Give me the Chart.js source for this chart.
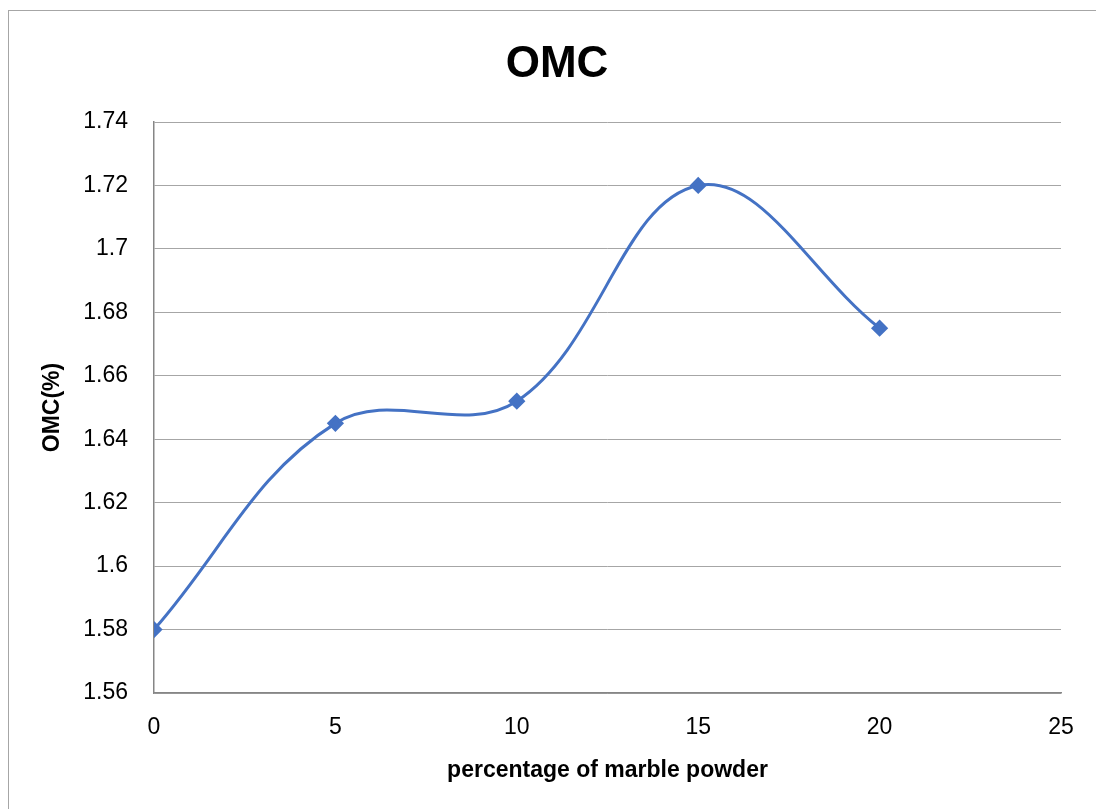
<!DOCTYPE html>
<html>
<head>
<meta charset="utf-8">
<script src="https://cdn.jsdelivr.net/npm/chart.js@4.4.0/dist/chart.umd.min.js"></script>
<style>
  html, body { margin: 0; padding: 0; background: #ffffff; }
  #wrap { position: relative; width: 1096px; height: 809px; overflow: hidden; }
  #frame { position: absolute; left: 8px; top: 10px; width: 1200px; height: 900px; border: 1px solid #a6a6a6; box-sizing: border-box; }
  canvas { position: absolute; left: 0; top: 0; }
</style>
</head>
<body>
<div id="wrap">
  <div id="frame"></div>
  <canvas id="c" width="1096" height="809"></canvas>
</div>
<script>
const chartTitle = "OMC";
const xAxisTitle = "percentage of marble powder";
const yAxisTitle = "OMC(%)";
const marblePercent = [0, 5, 10, 15, 20];
const omcValues = [1.58, 1.645, 1.652, 1.72, 1.675];
const xTicks = [0, 5, 10, 15, 20, 25];
const yTicks = [1.56, 1.58, 1.6, 1.62, 1.64, 1.66, 1.68, 1.7, 1.72, 1.74];

const FONT = "'Liberation Sans', Arial, sans-serif";

new Chart(document.getElementById('c'), {
  type: 'line',
  data: {
    datasets: [{
      label: yAxisTitle,
      data: marblePercent.map((x, i) => ({ x: x, y: omcValues[i] })),
      borderColor: '#4472C4',
      backgroundColor: '#4472C4',
      borderWidth: 3,
      tension: 0.38,
      pointStyle: 'rectRot',
      pointRadius: 6.5,
      pointHoverRadius: 6.5,
      fill: false,
      xAxisID: 'x',
      yAxisID: 'y'
    }]
  },
  options: {
    responsive: false,
    animation: false,
    events: [],
    layout: { padding: { left: 18, right: 0, top: 0, bottom: 0 } },
    plugins: {
      legend: { display: false },
      tooltip: { enabled: false },
      title: {
        display: true,
        text: chartTitle,
        color: '#000000',
        font: { family: FONT, size: 44, weight: 'bold', lineHeight: 1.2 },
        padding: { top: 38, bottom: 31.2 }
      }
    },
    scales: {
      x: {
        type: 'linear',
        min: 0, max: 25,
        afterBuildTicks: s => { s.ticks = xTicks.map(v => ({ value: v })); },
        afterFit: s => { s.height = 116; },
        grid: { display: false, drawTicks: false },
        border: { display: true, color: '#868686', width: 1.5 },
        ticks: {
          color: '#000000',
          font: { family: FONT, size: 23 },
          padding: 21,
          maxRotation: 0,
          callback: v => String(v)
        },
        title: {
          display: true,
          text: xAxisTitle,
          color: '#000000',
          font: { family: FONT, size: 23, weight: 'bold' },
          padding: { top: 0, bottom: 25 }
        }
      },
      y: {
        type: 'linear',
        position: 'left',
        min: 1.56, max: 1.74,
        afterBuildTicks: s => { s.ticks = yTicks.map(v => ({ value: v })); },
        afterFit: s => { s.width = 136; },
        grid: { display: true, color: '#a6a6a6', lineWidth: 1, drawTicks: false },
        border: { display: true, color: '#868686', width: 1.5 },
        ticks: {
          color: '#000000',
          font: { family: FONT, size: 23 },
          padding: 26,
          callback: v => String(+v.toFixed(2))
        },
        title: {
          display: true,
          text: yAxisTitle,
          color: '#000000',
          font: { family: FONT, size: 23, weight: 'bold' },
          padding: { top: 21, bottom: 0 }
        }
      },
      spacer: {
        type: 'linear',
        position: 'right',
        display: true,
        afterFit: s => { s.width = 35; },
        grid: { display: false, drawTicks: false },
        border: { display: false },
        ticks: { display: false },
        title: { display: false }
      }
    }
  }
});
</script>
</body>
</html>
